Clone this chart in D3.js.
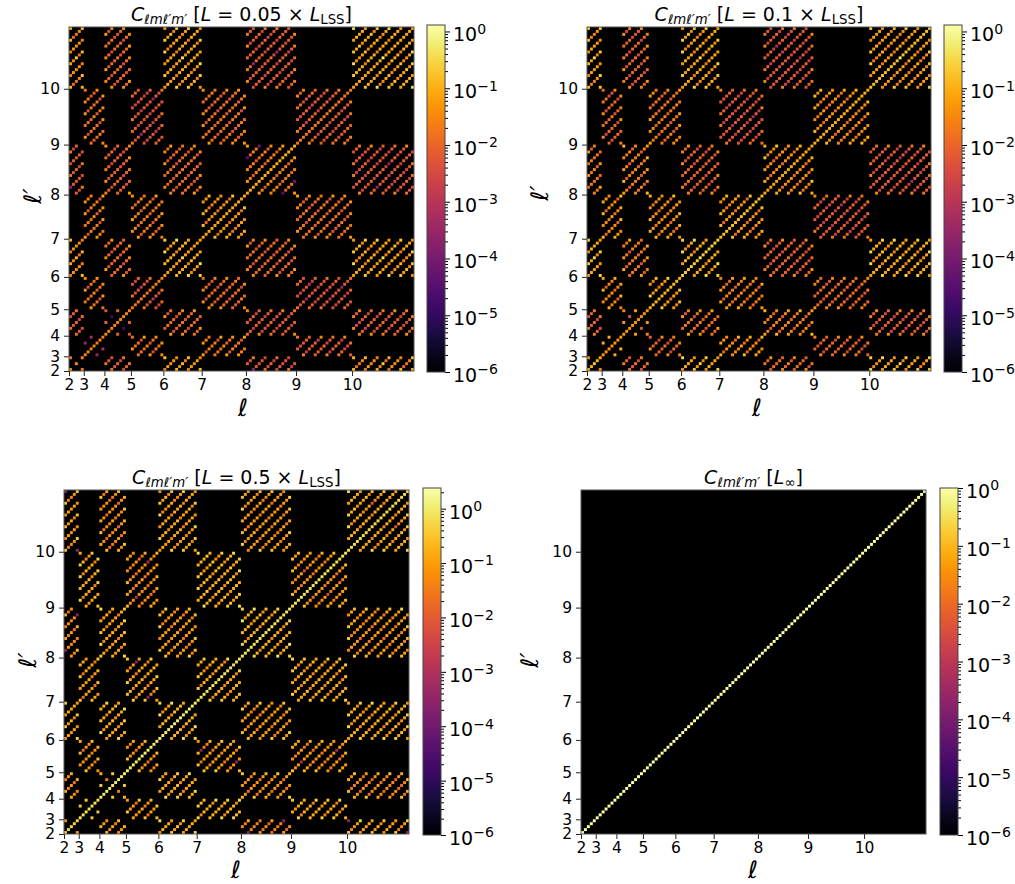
<!DOCTYPE html>
<html><head><meta charset="utf-8">
<script src="https://cdn.jsdelivr.net/npm/d3@7"></script>
<style>
html,body{margin:0;padding:0;background:#fff}
svg{display:block}
text{font-family:"DejaVu Sans",sans-serif;fill:#000}
</style></head><body><svg id="fig" width="1015" height="884"></svg>
<script>
const ells=[2,3,4,5,6,7,8,9,10];
const tickDecades=[-6,-5,-4,-3,-2,-1,0];
const panelLabels=["0.05","0.1","0.5"];
const panelVmax=[1.3,1.3,2.4,1];

// typical log10 level of each (l', l) block; rows l'=2..10, columns l=2..10
const blockP1=[
[-1.6,null,-2.3,null,-1.4,null,-2.4,null,-1.5],
[null,-2.2,null,-1.9,null,-1.8,null,-2.2,null],
[-2.3,null,-2.5,null,-2.0,null,-2.3,null,-2.2],
[null,-1.9,null,-2.4,null,-2.0,null,-2.4,null],
[-1.5,null,-2.0,null,-1.1,null,-2.0,null,-1.2],
[null,-1.8,null,-1.8,null,-1.4,null,-1.9,null],
[-2.3,null,-2.1,null,-2.0,null,-1.7,null,-2.3],
[null,-1.9,null,-2.4,null,-1.9,null,-2.2,null],
[-1.5,null,-2.0,null,-1.2,null,-2.2,null,-1.1]];
const blockP2=[
[-1.3,null,-2.2,null,-1.2,null,-2.0,null,-1.2],
[null,-1.6,null,-2.1,null,-1.5,null,-2.1,null],
[-2.2,null,-1.7,null,-1.9,null,-1.7,null,-2.2],
[null,-1.6,null,-1.3,null,-1.7,null,-2.0,null],
[-1.2,null,-1.8,null,-1.1,null,-2.1,null,-1.1],
[null,-1.5,null,-1.5,null,-1.4,null,-2.3,null],
[-1.8,null,-1.7,null,-2.1,null,-1.5,null,-2.3],
[null,-2.0,null,-1.8,null,-2.3,null,-1.5,null],
[-1.3,null,-2.1,null,-1.2,null,-2.3,null,-1.3]];
const blockP3=[
[-1.0,null,-1.2,null,-0.9,null,-1.5,null,-1.0],
[null,-1.1,null,-1.1,null,-0.8,null,-0.9,null],
[-1.3,null,-0.9,null,-0.9,null,-1.2,null,-1.3],
[null,-1.2,null,-1.2,null,-1.1,null,-1.2,null],
[-1.0,null,-0.9,null,-0.8,null,-1.1,null,-0.9],
[null,-1.1,null,-1.0,null,-0.9,null,-0.9,null],
[-1.3,null,-1.0,null,-1.1,null,-0.8,null,-1.1],
[null,-0.9,null,-1.3,null,-0.8,null,-1.2,null],
[-1.1,null,-1.3,null,-1.0,null,-1.1,null,-0.9]];

// log10 level along the main diagonal for l=2..10
const diagP1=[-1.5,-1.6,-1.5,-1.7,-1.2,-1.1,-1.0,-1.7,-1.1];
const diagP2=[-1.0,-1.3,-1.3,-0.9,-0.6,-0.8,-1.1,-1.0,-0.8];
const diagP3=[-0.3,-0.1,0.0,0.05,0.05,-0.1,-0.1,-0.1,-0.2];
const diagP4=[0,0,0,0,0,0,0,0,0];

// level change by m mod 4 (rows) and by stripe number mod 3 (columns), read from the stripes
const stripeAdj=[
[0.35,0.05,-0.25],
[-0.35,0.15,0.00],
[0.10,-0.55,0.25],
[0.00,0.20,-0.40]];
const edgeAdj=[0.0,0.45]; // 1 = cell sits on |m|=l or |m'|=l

// individually read cells: l, m, l', m', log10 (mirrored across the diagonal)
const accentsP1=[
[8,-4,8,8,-4.1],[8,-8,8,4,-4.4],[4,-2,4,2,-4.8],[3,-3,3,1,-3.5],[3,-1,3,3,-3.2],
[2,-2,2,2,-1.7],[2,0,2,0,-1.5],[6,0,6,0,-0.5],[10,0,10,0,-0.1],[6,0,10,0,-0.3],
[2,0,10,0,-0.6],[2,0,6,0,-0.9],[10,-10,10,-6,-0.7],[10,-10,10,2,-0.8],[6,-6,6,-2,-0.9],
[8,-6,10,-2,-3.6],[5,-2,9,-6,-3.6],[5,2,9,6,-3.6],[2,-2,8,-6,-3.6],[10,2,8,2,-3.6]];
const accentsP2=[
[2,0,2,0,-0.7],[6,0,6,0,-0.3],[10,0,10,0,-0.2],[6,0,10,0,-0.4],[2,0,10,0,-0.5],[2,0,6,0,-0.5],
[8,-4,10,4,-3.3],[8,4,10,0,-3.3],[7,-3,9,-3,-3.2],[7,4,9,0,-3.3],[8,4,9,0,-3.0]];
const accentsP3=[
[2,2,10,-10,-3.6],[10,10,2,-2,-3.6],[2,2,8,6,-3.6],[2,-2,8,-6,-3.6],[5,-2,7,6,-3.6],
[5,2,7,-6,-3.6],[5,-2,9,-6,-3.2],[5,2,9,6,-3.2],[10,-2,10,6,-2.2],[9,-5,9,3,-2.4]];
const missingP1=[[2,-1,2,-1],[2,1,2,1]];
const missingAll=[[3,-2,3,2],[4,-3,4,1],[4,-1,4,3]];

const panels=[
 {ax:[69,414,27,371],cb:[427,445,25,372],block:blockP1,diag:diagP1,acc:accentsP1,miss:missingP1,label:panelLabels[0],vmax:panelVmax[0],yl:[41,196],xl:[243,416]},
 {ax:[587,931,27,371],cb:[944,962,25,372],block:blockP2,diag:diagP2,acc:accentsP2,miss:[],label:panelLabels[1],vmax:panelVmax[1],yl:[548,193],xl:[757,416]},
 {ax:[64,409,490,834],cb:[423,441,488,835],block:blockP3,diag:diagP3,acc:accentsP3,miss:[],label:panelLabels[2],vmax:panelVmax[2],yl:[36,660],xl:[236,878]},
 {ax:[581,926,490,834],cb:[940,958,488,835],block:null,diag:diagP4,acc:[],miss:[],label:null,vmax:panelVmax[3],yl:[538,660],xl:[753,878]}
];

const start=l=>l*l-4;
const nModes=start(11);
const key=(i,j)=>i+"_"+j;
const idx=(l,m)=>start(l)+l+m;
const svg=d3.select("#fig");
const defs=svg.append("defs");
const mod4=v=>((v%4)+4)%4;

function cells(p){
  const out=[];
  const acc=new Map(), miss=new Set();
  p.acc.forEach(([l,m,k,n,v])=>{acc.set(key(idx(l,m),idx(k,n)),v);acc.set(key(idx(k,n),idx(l,m)),v);});
  if(p.block) p.miss.concat(missingAll).forEach(([l,m,k,n])=>{miss.add(key(idx(l,m),idx(k,n)));miss.add(key(idx(k,n),idx(l,m)));});
  ells.forEach((l,a)=>ells.forEach((k,b)=>{
    if(!p.block){
      if(l===k) d3.range(-l,l+1).forEach(m=>out.push({i:idx(l,m),j:idx(l,m),v:p.diag[a]}));
      return;
    }
    const base=p.block[b][a];
    if(base===null) return;
    d3.range(-l,l+1).forEach(m=>d3.range(-k,k+1).forEach(n=>{
      if(mod4(m-n)!==0) return;
      const i=idx(l,m),j=idx(k,n),K=key(i,j);
      if(miss.has(K)) return;
      let v;
      if(acc.has(K)) v=acc.get(K);
      else if(i===j) v=p.diag[a];
      else{
        const mm=Math.max(m,n), nn=Math.min(m,n);
        const row=mod4(nn);
        const col=((mm-nn)/4)%3;
        v=base+stripeAdj[row][col]+edgeAdj[(Math.abs(m)===l||Math.abs(n)===k)?1:0];
      }
      out.push({i,j,v});
    }));
  }));
  return out;
}

function mathTitle(g,p){
  const t=g.append("text").attr("x",(p.ax[0]+p.ax[1])/2).attr("y",p.ax[2]-6).attr("text-anchor","middle").style("font-size","19px");
  t.append("tspan").style("font-style","italic").text("C");
  t.append("tspan").attr("dy",3).style("font-style","italic").style("font-size","13.3px").text("ℓmℓ′m′");
  if(p.label){
    t.append("tspan").attr("dy",-3).text(" [");
    t.append("tspan").style("font-style","italic").text("L");
    t.append("tspan").text(" = "+p.label+" × ");
    t.append("tspan").style("font-style","italic").text("L");
    t.append("tspan").attr("dy",3).style("font-size","13.3px").text("LSS");
    t.append("tspan").attr("dy",-3).text("]");
  }else{
    t.append("tspan").attr("dy",-3).text(" [");
    t.append("tspan").style("font-style","italic").text("L");
    t.append("tspan").attr("dy",3).style("font-size","13.3px").text("∞");
    t.append("tspan").attr("dy",-3).text("]");
  }
}

panels.forEach((p,n)=>{
  const g=svg.append("g");
  const [x0,x1,y0,y1]=p.ax;
  const x=d3.scaleLinear().domain([0,nModes]).range([x0,x1]);
  const y=d3.scaleLinear().domain([0,nModes]).range([y1,y0]);
  const top=Math.log10(p.vmax);
  const color=v=>d3.interpolateInferno((v+6)/(top+6));

  g.append("rect").attr("x",x0).attr("y",y0).attr("width",x1-x0).attr("height",y1-y0).attr("fill","#000");
  g.append("g").selectAll("rect").data(cells(p)).join("rect")
    .attr("x",d=>x(d.i)).attr("y",d=>y(d.j+1))
    .attr("width",x(1)-x(0)).attr("height",y(0)-y(1))
    .attr("fill",d=>color(Math.min(d.v,top)));

  const tv=ells.map(start);
  const xa=g.append("g").attr("transform",`translate(0,${y1})`)
    .call(d3.axisBottom(x).tickValues(tv).tickFormat((d,i)=>ells[i]).tickSizeOuter(0).tickSize(5).tickPadding(3));
  const ya=g.append("g").attr("transform",`translate(${x0},0)`)
    .call(d3.axisLeft(y).tickValues(tv).tickFormat((d,i)=>ells[i]).tickSizeOuter(0).tickSize(5).tickPadding(4));
  [xa,ya].forEach(a=>{
    a.select(".domain").remove();
    a.selectAll("text").style("font-size","15.5px").style("font-family",'"DejaVu Sans"');
    a.selectAll("line").attr("stroke","#222");
  });
  g.append("rect").attr("x",x0).attr("y",y0).attr("width",x1-x0).attr("height",y1-y0)
    .attr("fill","none").attr("stroke","#555").attr("stroke-width",1);

  mathTitle(g,p);
  g.append("text").attr("x",p.xl[0]).attr("y",p.xl[1]).attr("text-anchor","middle")
    .style("font-style","italic").style("font-size","24px").text("ℓ");
  g.append("text").attr("transform",`translate(${p.yl[0]},${p.yl[1]}) rotate(-90)`).attr("text-anchor","middle")
    .style("font-style","italic").style("font-size","24px").text("ℓ′");

  // colour bar
  const [c0,c1,c2,c3]=p.cb;
  const gid="cb"+n;
  const grad=defs.append("linearGradient").attr("id",gid).attr("x1",0).attr("x2",0).attr("y1",1).attr("y2",0);
  d3.range(0,1.0001,1/32).forEach(t=>grad.append("stop").attr("offset",t).attr("stop-color",d3.interpolateInferno(t)));
  g.append("rect").attr("x",c0).attr("y",c2).attr("width",c1-c0).attr("height",c3-c2).attr("fill",`url(#${gid})`);
  const cs=d3.scaleLog().domain([1e-6,p.vmax]).range([c3,c2]);
  const minors=[];
  tickDecades.forEach(e=>d3.range(2,10).forEach(k=>{const v=k*Math.pow(10,e);if(v<=p.vmax)minors.push(v);}));
  const cm=g.append("g").attr("transform",`translate(${c1},0)`)
    .call(d3.axisRight(cs).tickValues(minors).tickFormat("").tickSize(3).tickSizeOuter(0));
  cm.select(".domain").remove();
  const ca=g.append("g").attr("transform",`translate(${c1},0)`)
    .call(d3.axisRight(cs).tickValues(tickDecades.map(e=>Math.pow(10,e)).filter(v=>v<=p.vmax)).tickSize(5).tickPadding(3).tickSizeOuter(0));
  ca.select(".domain").remove();
  ca.selectAll("text").each(function(d){
    const e=Math.round(Math.log10(d));
    const t=d3.select(this).text("").style("font-size","19px").style("font-family",'"DejaVu Sans"').attr("dy","0.5em");
    t.append("tspan").text("10");
    t.append("tspan").attr("dy","-0.55em").style("font-size","14px").text(e<0?"−"+(-e):e);
  });
  g.append("rect").attr("x",c0).attr("y",c2).attr("width",c1-c0).attr("height",c3-c2)
    .attr("fill","none").attr("stroke","#444").attr("stroke-width",1);
});
</script></body></html>
